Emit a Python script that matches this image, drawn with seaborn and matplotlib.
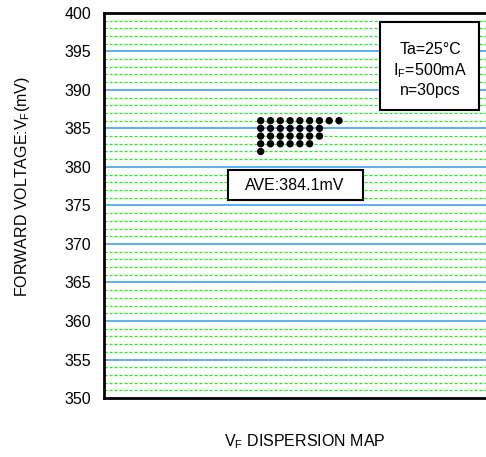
import matplotlib
matplotlib.use('Agg')
import matplotlib.pyplot as plt
import seaborn as sns
import pandas as pd

# forward voltage bins (mV) and how many units fell in each
vf_bins = [386, 385, 384, 383, 382]
counts = [9, 7, 7, 6, 1]
ave_label = "AVE:384.1mV"
cond_lines = ["Ta=25°C", r"I$_\mathregular{F}$=500mA", "n=30pcs"]
y_ticks = [350, 355, 360, 365, 370, 375, 380, 385, 390, 395, 400]

# one row per unit, stacked sideways in its bin
rows = []
for v, c in zip(vf_bins, counts):
    for k in range(c):
        rows.append({"pos": k, "vf": v})
df = pd.DataFrame(rows)

sns.set_style("white")
plt.rcParams['font.family'] = ['Liberation Sans', 'DejaVu Sans']
plt.rcParams['mathtext.fontset'] = 'custom'
plt.rcParams['mathtext.rm'] = 'Liberation Sans'
plt.rcParams['text.color'] = 'black'
plt.rcParams['axes.labelcolor'] = 'black'
plt.rcParams['ytick.color'] = 'black'

fig = plt.figure(figsize=(4.86, 4.57), dpi=100)
ax = fig.add_axes([0.214, 0.129, 0.80, 0.843])

# grid: green dashed every 1 mV, blue solid every 5 mV
for y in range(351, 400):
    if y % 5 == 0:
        ax.axhline(y, color="#4daaf0", lw=1.3, zorder=1)
    else:
        ax.axhline(y, color="#22ee22", lw=0.9, ls=(0, (2.5, 1.5)), zorder=1)

sns.scatterplot(data=df, x="pos", y="vf", color="black", s=28,
                edgecolor="none", ax=ax, zorder=3)

ax.set_xlim(-16, 23.7)
ax.set_ylim(350, 400)
ax.set_yticks(y_ticks)
ax.set_xticks([])
ax.tick_params(axis="y", length=0, pad=9, labelsize=11.5)
for s in ax.spines.values():
    s.set_linewidth(2)
    s.set_color("black")

ax.set_ylabel("FORWARD VOLTAGE:V$_\\mathregular{F}$(mV)", fontsize=11.5)
ax.yaxis.set_label_coords(-0.185, 0.55)
ax.set_xlabel("V$_\\mathregular{F}$ DISPERSION MAP", fontsize=11.5)
ax.xaxis.set_label_coords(0.517, -0.088)

# boxes (pixel coords from the bottom-left of the figure)
fig.patches.append(plt.Rectangle((228, 457 - 200), 135, 30, transform=None,
                                 fill=True, facecolor="white", edgecolor="black",
                                 lw=1.5, zorder=4, figure=fig))
fig.patches.append(plt.Rectangle((380, 457 - 110), 99, 88, transform=None,
                                 fill=True, facecolor="white", edgecolor="black",
                                 lw=1.5, zorder=4, figure=fig))
for txt, yy in zip(cond_lines, [50, 71, 90]):
    fig.text(430 / 486, 1 - yy / 457, txt, fontsize=11.5, ha="center", va="center", zorder=5)
fig.text(295 / 486, 1 - 185 / 457, ave_label, fontsize=11.5, ha="center", va="center", zorder=5)

fig.savefig("out.png", dpi=100)
